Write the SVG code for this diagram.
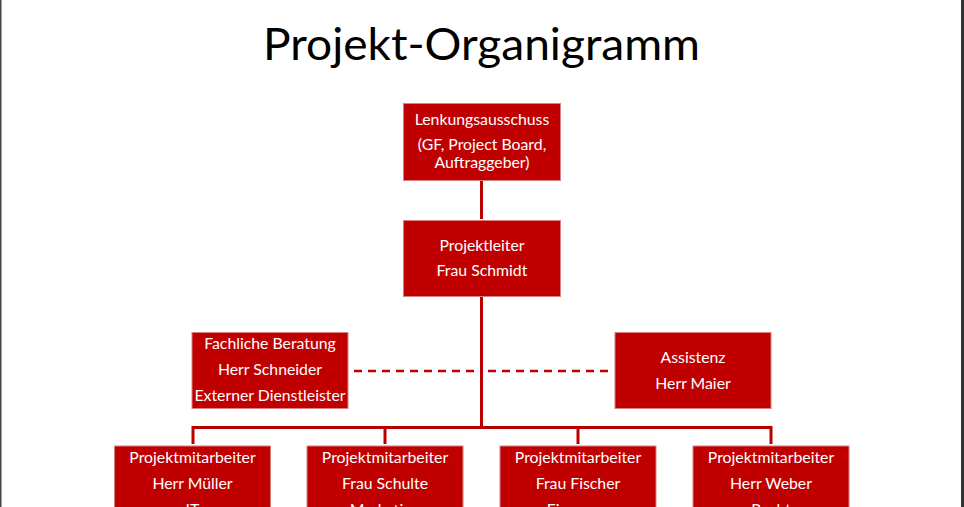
<svg xmlns="http://www.w3.org/2000/svg" width="964" height="507" viewBox="0 0 964 507">
<style>
.box{fill:#C00000;stroke:#D98080;stroke-width:1}
.t{font-family:Lato,"Open Sans","Liberation Sans",sans-serif;font-size:15.8px;fill:#ffffff;text-anchor:middle}
.title{font-family:Lato,"Open Sans","Liberation Sans",sans-serif;font-size:45px;fill:#000000;text-anchor:middle}
.ln{stroke:#B80000;stroke-width:3;fill:none}
.dash{stroke:#C00000;stroke-width:2.5;fill:none;stroke-dasharray:8 6}
</style>
<rect x="0" y="0" width="964" height="507" fill="#ffffff"/>
<rect x="0" y="0" width="1.5" height="507" fill="#444444"/>
<rect x="961" y="0" width="3" height="507" fill="#333333"/>
<text class="title" x="481.5" y="60" textLength="437" lengthAdjust="spacingAndGlyphs">Projekt-Organigramm</text>
<g id="connectors">
<line class="ln" x1="481.5" y1="181" x2="481.5" y2="219"/>
<line class="ln" x1="481.5" y1="296" x2="481.5" y2="428"/>
<polyline class="ln" points="193,444 193,427.5 771,427.5 771,444"/>
<line class="ln" x1="385" y1="427.5" x2="385" y2="444"/>
<line class="ln" x1="578" y1="427.5" x2="578" y2="444"/>
<line class="dash" x1="354" y1="371" x2="476" y2="371"/>
<line class="dash" x1="488" y1="371" x2="610" y2="371"/>
</g>
<g id="lenkungsausschuss">
<rect class="box" x="403.5" y="103.5" width="157" height="77"/>
<text class="t" x="482" y="125">Lenkungsausschuss</text>
<text class="t" x="482" y="150">(GF, Project Board,</text>
<text class="t" x="482" y="168">Auftraggeber)</text>
</g>
<g id="projektleiter">
<rect class="box" x="403.5" y="220.5" width="157" height="76"/>
<text class="t" x="482" y="251">Projektleiter</text>
<text class="t" x="482" y="276">Frau Schmidt</text>
</g>
<g id="fachliche-beratung">
<rect class="box" x="192" y="332.5" width="156" height="76"/>
<text class="t" x="270" y="349">Fachliche Beratung</text>
<text class="t" x="270" y="375">Herr Schneider</text>
<text class="t" x="270" y="401">Externer Dienstleister</text>
</g>
<g id="assistenz">
<rect class="box" x="615" y="332.5" width="156" height="76"/>
<text class="t" x="693" y="363">Assistenz</text>
<text class="t" x="693" y="389">Herr Maier</text>
</g>
<g id="mitarbeiter-mueller">
<rect class="box" x="114.5" y="446" width="156" height="70"/>
<text class="t" x="192.5" y="463">Projektmitarbeiter</text>
<text class="t" x="192.5" y="489">Herr Müller</text>
<text class="t" x="192.5" y="515">IT</text>
</g>
<g id="mitarbeiter-schulte">
<rect class="box" x="307" y="446" width="156" height="70"/>
<text class="t" x="385" y="463">Projektmitarbeiter</text>
<text class="t" x="385" y="489">Frau Schulte</text>
<text class="t" x="385" y="515">Marketing</text>
</g>
<g id="mitarbeiter-fischer">
<rect class="box" x="500" y="446" width="156" height="70"/>
<text class="t" x="578" y="463">Projektmitarbeiter</text>
<text class="t" x="578" y="489">Frau Fischer</text>
<text class="t" x="578" y="515">Finanzen</text>
</g>
<g id="mitarbeiter-weber">
<rect class="box" x="693" y="446" width="156" height="70"/>
<text class="t" x="771" y="463">Projektmitarbeiter</text>
<text class="t" x="771" y="489">Herr Weber</text>
<text class="t" x="771" y="515">Recht</text>
</g>
</svg>
